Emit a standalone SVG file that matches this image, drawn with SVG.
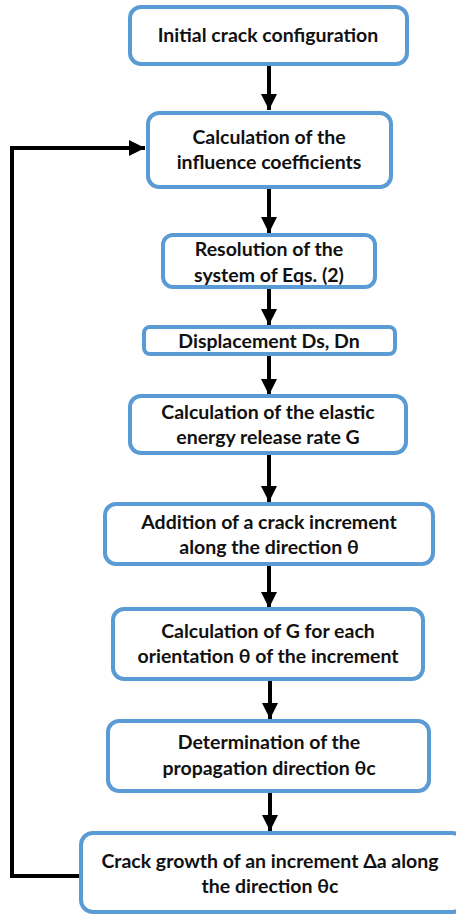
<svg xmlns="http://www.w3.org/2000/svg" width="456" height="915" viewBox="0 0 456 915">
<style>
.box{fill:#fff;stroke:#5b9bd5;stroke-width:4}
.t{font-family:Lato,"Liberation Sans",sans-serif;font-weight:bold;font-size:19.5px;fill:#111;text-anchor:middle}
.c{stroke:#000;stroke-width:4;fill:none}
</style>
<defs>
<marker id="ah" markerUnits="userSpaceOnUse" markerWidth="16" markerHeight="16" viewBox="0 0 16 16" refX="16" refY="8" orient="auto">
<path d="M0,0 L16,8 L0,16 Z" fill="#000"/>
</marker>
</defs>
<rect width="456" height="915" fill="#fff"/>
<g id="connectors">
<line class="c" x1="269" y1="65" x2="269" y2="110" marker-end="url(#ah)"/>
<line class="c" x1="269" y1="189" x2="269" y2="233" marker-end="url(#ah)"/>
<line class="c" x1="269" y1="289" x2="269" y2="325" marker-end="url(#ah)"/>
<line class="c" x1="269" y1="356" x2="269" y2="395" marker-end="url(#ah)"/>
<line class="c" x1="269" y1="455" x2="269" y2="502" marker-end="url(#ah)"/>
<line class="c" x1="269" y1="566" x2="269" y2="608" marker-end="url(#ah)"/>
<line class="c" x1="270" y1="681" x2="270" y2="719" marker-end="url(#ah)"/>
<line class="c" x1="270" y1="793" x2="270" y2="831" marker-end="url(#ah)"/>
<polyline class="c" points="80,876 12,876 12,148 145,148" marker-end="url(#ah)"/>
</g>
<g id="n1"><rect class="box" x="130" y="7" width="277" height="57" rx="11"/>
<text class="t" x="268" y="42">Initial crack configuration</text></g>
<g id="n2"><rect class="box" x="148" y="113" width="243" height="74" rx="11"/>
<text class="t" x="269" y="144">Calculation of the</text>
<text class="t" x="269" y="169">influence coefficients</text></g>
<g id="n3"><rect class="box" x="163" y="235" width="212" height="52" rx="10"/>
<text class="t" x="269" y="256">Resolution of the</text>
<text class="t" x="269" y="282">system of Eqs. (2)</text></g>
<g id="n4"><rect class="box" x="144" y="327" width="251" height="27" rx="6"/>
<text class="t" x="269" y="348">Displacement Ds, Dn</text></g>
<g id="n5"><rect class="box" x="130" y="396" width="276" height="57" rx="11"/>
<text class="t" x="268" y="419">Calculation of the elastic</text>
<text class="t" x="268" y="444">energy release rate G</text></g>
<g id="n6"><rect class="box" x="105" y="504" width="328" height="60" rx="11"/>
<text class="t" x="269" y="529">Addition of a crack increment</text>
<text class="t" x="269" y="554">along the direction θ</text></g>
<g id="n7"><rect class="box" x="113" y="609" width="310" height="70" rx="11"/>
<text class="t" x="268" y="638">Calculation of G for each</text>
<text class="t" x="268" y="663">orientation θ of the increment</text></g>
<g id="n8"><rect class="box" x="108" y="721" width="321" height="70" rx="11"/>
<text class="t" x="269" y="749">Determination of the</text>
<text class="t" x="269" y="775">propagation direction θc</text></g>
<g id="n9"><rect class="box" x="81" y="833" width="383" height="79" rx="12"/>
<text class="t" x="270" y="868">Crack growth of an increment Δa along</text>
<text class="t" x="270" y="893">the direction θc</text></g>
</svg>
